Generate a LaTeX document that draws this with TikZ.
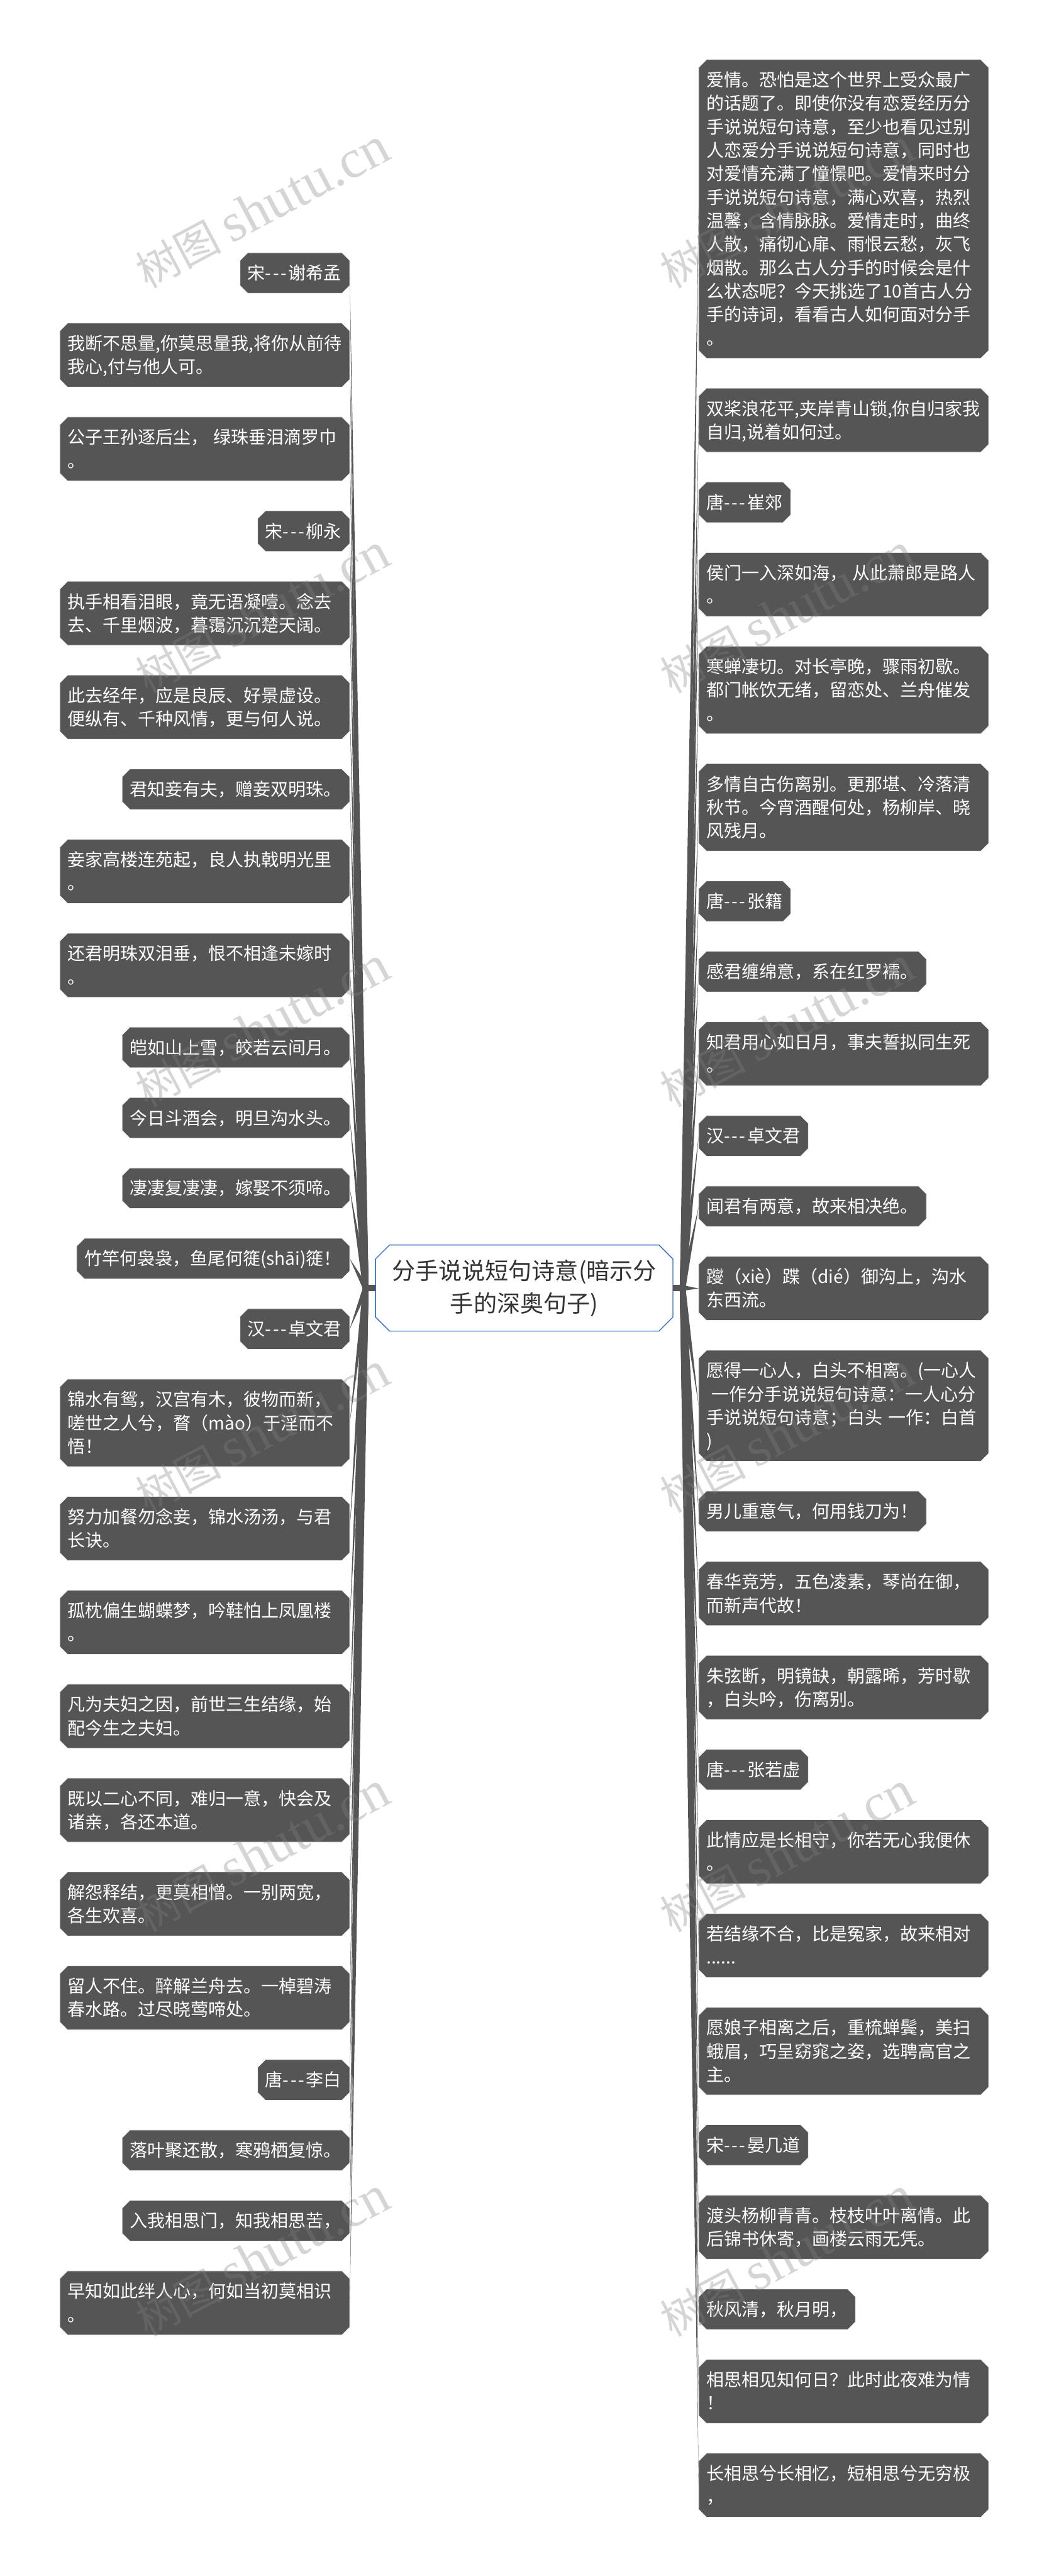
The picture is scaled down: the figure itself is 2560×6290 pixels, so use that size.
\documentclass[tikz,border=0pt]{standalone}
\usepackage{fontspec}
\setmainfont{Noto Sans CJK SC}
\newfontfamily\wmlatin{Liberation Serif}
\usetikzlibrary{calc, shapes.misc}
\definecolor{leafgray}{HTML}{555555}
\definecolor{leafedge}{HTML}{EEEEEE}
\definecolor{rootblue}{HTML}{2B6CC4}
\definecolor{roottext}{HTML}{333333}
\newcommand{\lineup}{\rule[-12.4pt]{0pt}{57.3pt}}
\newcommand{\tri}{-\kern4pt-\kern4pt-\kern4pt}
\newcommand{\stamptext}{树图 {\wmlatin\fontsize{133}{133}\selectfont shutu.cn}}
\newcommand{\taper}[2]{\fill[link] ($(#1)!7pt!90:(#2)$) -- (#2) -- ($(#1)!7pt!-90:(#2)$) -- cycle;}

\begin{document}
\begin{tikzpicture}[
    % GLOBAL CFG
    x=1pt, y=-1pt,
    % Styles
    leaf/.style={% For the dark boxes
        chamfered rectangle,
        chamfered rectangle xsep=8.5pt,
        chamfered rectangle ysep=10.5pt,
        draw=leafedge,
        line width=1.5pt,
        fill=leafgray,
        text=white,
        outer sep=0pt,
        inner xsep=10.5pt,
        inner ysep=10.5pt,
        align=left,
        text width={#1pt-38pt},
        font=\fontsize{43}{57.3}\selectfont,
        execute at begin node=\lineup,
        execute at end node=\lineup,
    },
    leafL/.style={leaf=#1, anchor=north east, xshift=-8.5pt, yshift=-10.5pt},% For left boxes
    leafR/.style={leaf=#1, anchor=north west, xshift=8.5pt, yshift=-10.5pt},% For right boxes
    leafL/.default=708,
    leafR/.default=708,
    root/.style={% For the middle box
        chamfered rectangle,
        chamfered rectangle xsep=17pt,
        chamfered rectangle ysep=17pt,
        draw=rootblue,
        line width=2pt,
        fill=white,
        text=roottext,
        outer sep=0pt,
        minimum width=726pt,
        minimum height=210pt,
        align=center,
        font=\fontsize{57}{80}\selectfont,
    },
    link/.style={% For tapered connectors
        fill=leafgray,
    },
    stamp/.style={% For the diagonal stamp
        rotate=28,
        anchor=base west,
        text=gray,
        opacity=.33,
        inner sep=0pt,
        font=\fontsize{105}{105}\selectfont,
    },
    ]
    \useasboundingbox (0,0) rectangle (2560,6290);

    % Coordinates
    \coordinate (joinL) at (893,3145);
    \coordinate (joinR) at (1667,3145);

    % Draw root
    \node [root] (root) at (1280,3145) {分手说说短句诗意(暗示分\\手的深奥句子)};

    % Draw left boxes named L#
    \node [leafL=268] (L1) at (853,616) {宋\tri 谢希孟};
    \node [leafL] (L2) at (853,787.9) {我断不思量,你莫思量我,将你从前待\\我心,付与他人可。};
    \node [leafL] (L3) at (853,1017.1) {公子王孙逐后尘，\hspace{13pt}绿珠垂泪滴罗巾\\。};
    \node [leafL=225] (L4) at (853,1246.3) {宋\tri 柳永};
    \node [leafL] (L5) at (853,1418.2) {执手相看泪眼，竟无语凝噎。念去\\去、千里烟波，暮霭沉沉楚天阔。};
    \node [leafL] (L6) at (853,1647.4) {此去经年，应是良辰、好景虚设。\\便纵有、千种风情，更与何人说。};
    \node [leafL=556] (L7) at (853,1876.6) {君知妾有夫，赠妾双明珠。};
    \node [leafL] (L8) at (853,2048.5) {妾家高楼连苑起，良人执戟明光里\\。};
    \node [leafL] (L9) at (853,2277.7) {还君明珠双泪垂，恨不相逢未嫁时\\。};
    \node [leafL=556] (L10) at (853,2506.9) {皑如山上雪，皎若云间月。};
    \node [leafL=556] (L11) at (853,2678.8) {今日斗酒会，明旦沟水头。};
    \node [leafL=556] (L12) at (853,2850.7) {凄凄复凄凄，嫁娶不须啼。};
    \node [leafL=667] (L13) at (853,3022.6) {竹竿何袅袅，鱼尾何簁(shāi)簁！};
    \node [leafL=268] (L14) at (853,3194.5) {汉\tri 卓文君};
    \node [leafL] (L15) at (853,3366.4) {锦水有鸳，汉宫有木，彼物而新，\\嗟世之人兮，瞀（mào）于淫而不\\悟！};
    \node [leafL] (L16) at (853,3652.9) {努力加餐勿念妾，锦水汤汤，与君\\长诀。};
    \node [leafL] (L17) at (853,3882.1) {孤枕偏生蝴蝶梦，吟鞋怕上凤凰楼\\。};
    \node [leafL] (L18) at (853,4111.3) {凡为夫妇之因，前世三生结缘，始\\配今生之夫妇。};
    \node [leafL] (L19) at (853,4340.5) {既以二心不同，难归一意，快会及\\诸亲，各还本道。};
    \node [leafL] (L20) at (853,4569.7) {解怨释结，更莫相憎。一别两宽，\\各生欢喜。};
    \node [leafL] (L21) at (853,4798.9) {留人不住。醉解兰舟去。一棹碧涛\\春水路。过尽晓莺啼处。};
    \node [leafL=225] (L22) at (853,5028.1) {唐\tri 李白};
    \node [leafL=556] (L23) at (853,5200) {落叶聚还散，寒鸦栖复惊。};
    \node [leafL=556] (L24) at (853,5371.9) {入我相思门，知我相思苦，};
    \node [leafL] (L25) at (853,5543.8) {早知如此绊人心，何如当初莫相识\\。};

    % Draw right boxes named R#
    \node [leafR] (R1) at (1707,144.5) {爱情。恐怕是这个世界上受众最广\\的话题了。即使你没有恋爱经历分\\手说说短句诗意，至少也看见过别\\人恋爱分手说说短句诗意，同时也\\对爱情充满了憧憬吧。爱情来时分\\手说说短句诗意，满心欢喜，热烈\\温馨，含情脉脉。爱情走时，曲终\\人散，痛彻心扉、雨恨云愁，灰飞\\烟散。那么古人分手的时候会是什\\么状态呢？今天挑选了10首古人分\\手的诗词，看看古人如何面对分手\\。};
    \node [leafR] (R2) at (1707,946.7) {双桨浪花平,夹岸青山锁,你自归家我\\自归,说着如何过。};
    \node [leafR=225] (R3) at (1707,1175.9) {唐\tri 崔郊};
    \node [leafR] (R4) at (1707,1347.8) {侯门一入深如海，\hspace{13pt}从此萧郎是路人\\。};
    \node [leafR] (R5) at (1707,1577) {寒蝉凄切。对长亭晚，骤雨初歇。\\都门帐饮无绪，留恋处、兰舟催发\\。};
    \node [leafR] (R6) at (1707,1863.5) {多情自古伤离别。更那堪、冷落清\\秋节。今宵酒醒何处，杨柳岸、晓\\风残月。};
    \node [leafR=225] (R7) at (1707,2150) {唐\tri 张籍};
    \node [leafR=556] (R8) at (1707,2321.9) {感君缠绵意，系在红罗襦。};
    \node [leafR] (R9) at (1707,2493.8) {知君用心如日月，事夫誓拟同生死\\。};
    \node [leafR=268] (R10) at (1707,2723) {汉\tri 卓文君};
    \node [leafR=556] (R11) at (1707,2894.9) {闻君有两意，故来相决绝。};
    \node [leafR] (R12) at (1707,3066.8) {躞（xiè）蹀（dié）御沟上，沟水\\东西流。};
    \node [leafR] (R13) at (1707,3296) {愿得一心人，白头不相离。(一心人\\\hspace{12pt}一作分手说说短句诗意：一人心分\\手说说短句诗意；白头 一作：白首\\)};
    \node [leafR=556] (R14) at (1707,3639.8) {男儿重意气，何用钱刀为！};
    \node [leafR] (R15) at (1707,3811.7) {春华竞芳，五色凌素，琴尚在御，\\而新声代故！};
    \node [leafR] (R16) at (1707,4040.9) {朱弦断，明镜缺，朝露晞，芳时歇\\，白头吟，伤离别。};
    \node [leafR=268] (R17) at (1707,4270.1) {唐\tri 张若虚};
    \node [leafR] (R18) at (1707,4442) {此情应是长相守，你若无心我便休\\。};
    \node [leafR] (R19) at (1707,4671.2) {若结缘不合，比是冤家，故来相对\\......};
    \node [leafR] (R20) at (1707,4900.4) {愿娘子相离之后，重梳蝉鬓，美扫\\蛾眉，巧呈窈窕之姿，选聘高官之\\主。};
    \node [leafR=268] (R21) at (1707,5186.9) {宋\tri 晏几道};
    \node [leafR] (R22) at (1707,5358.8) {渡头杨柳青青。枝枝叶叶离情。此\\后锦书休寄，画楼云雨无凭。};
    \node [leafR=383] (R23) at (1707,5588) {秋风清，秋月明，};
    \node [leafR] (R24) at (1707,5759.9) {相思相见知何日？此时此夜难为情\\！};
    \node [leafR] (R25) at (1707,5989.1) {长相思兮长相忆，短相思兮无穷极\\，};

    % Stems
    \draw [leafgray, line width=14pt] (root.west) -- (joinL);
    \draw [leafgray, line width=14pt] (root.east) -- (joinR);

    % Left connectors
    \taper{joinL}{L1.east}
    \taper{joinL}{L2.east}
    \taper{joinL}{L3.east}
    \taper{joinL}{L4.east}
    \taper{joinL}{L5.east}
    \taper{joinL}{L6.east}
    \taper{joinL}{L7.east}
    \taper{joinL}{L8.east}
    \taper{joinL}{L9.east}
    \taper{joinL}{L10.east}
    \taper{joinL}{L11.east}
    \taper{joinL}{L12.east}
    \taper{joinL}{L13.east}
    \taper{joinL}{L14.east}
    \taper{joinL}{L15.east}
    \taper{joinL}{L16.east}
    \taper{joinL}{L17.east}
    \taper{joinL}{L18.east}
    \taper{joinL}{L19.east}
    \taper{joinL}{L20.east}
    \taper{joinL}{L21.east}
    \taper{joinL}{L22.east}
    \taper{joinL}{L23.east}
    \taper{joinL}{L24.east}
    \taper{joinL}{L25.east}

    % Right connectors
    \taper{joinR}{R1.west}
    \taper{joinR}{R2.west}
    \taper{joinR}{R3.west}
    \taper{joinR}{R4.west}
    \taper{joinR}{R5.west}
    \taper{joinR}{R6.west}
    \taper{joinR}{R7.west}
    \taper{joinR}{R8.west}
    \taper{joinR}{R9.west}
    \taper{joinR}{R10.west}
    \taper{joinR}{R11.west}
    \taper{joinR}{R12.west}
    \taper{joinR}{R13.west}
    \taper{joinR}{R14.west}
    \taper{joinR}{R15.west}
    \taper{joinR}{R16.west}
    \taper{joinR}{R17.west}
    \taper{joinR}{R18.west}
    \taper{joinR}{R19.west}
    \taper{joinR}{R20.west}
    \taper{joinR}{R21.west}
    \taper{joinR}{R22.west}
    \taper{joinR}{R23.west}
    \taper{joinR}{R24.west}
    \taper{joinR}{R25.west}

    % Stamps over everything
    \node [stamp] (stamp1) at (360,705) {\stamptext};
    \node [stamp] (stamp2) at (1640,705) {\stamptext};
    \node [stamp] (stamp3) at (360,1695) {\stamptext};
    \node [stamp] (stamp4) at (1640,1695) {\stamptext};
    \node [stamp] (stamp5) at (360,2705) {\stamptext};
    \node [stamp] (stamp6) at (1640,2705) {\stamptext};
    \node [stamp] (stamp7) at (360,3695) {\stamptext};
    \node [stamp] (stamp8) at (1640,3695) {\stamptext};
    \node [stamp] (stamp9) at (360,4720) {\stamptext};
    \node [stamp] (stamp10) at (1640,4720) {\stamptext};
    \node [stamp] (stamp11) at (360,5708) {\stamptext};
    \node [stamp] (stamp12) at (1640,5708) {\stamptext};

\end{tikzpicture}
\end{document}
